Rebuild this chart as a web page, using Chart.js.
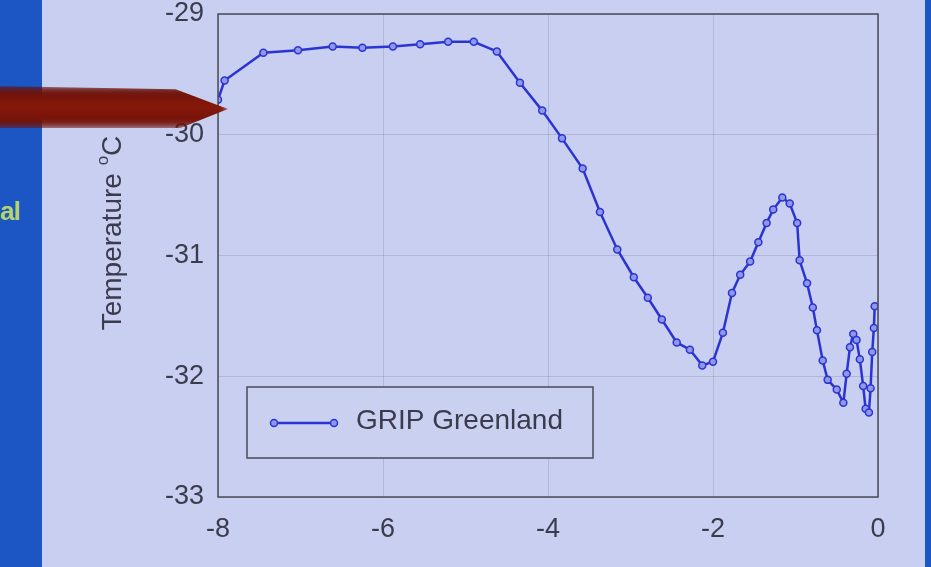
<!DOCTYPE html>
<html>
<head>
<meta charset="utf-8">
<script src="https://cdn.jsdelivr.net/npm/chart.js@4.4.1/dist/chart.umd.min.js"></script>
<style>
    html, body { margin: 0; padding: 0; }
    body { width: 931px; height: 567px; overflow: hidden; position: relative; background: #c8cff0; }
    #leftBar { position: absolute; left: 0; top: 0; width: 42px; height: 567px; background: #1c55c4; }
    #leftBar span { position: absolute; left: 0; top: 196px; font: bold 26px "Liberation Sans", Arial, sans-serif; color: #b5d46c; letter-spacing: -1px; }
    #rightBar { position: absolute; right: 0; top: 0; width: 6px; height: 567px; background: #1c55c4; }
    #pointer {
        position: absolute; left: -10px; top: 86px; width: 238px; height: 42px;
        background: linear-gradient(#5e0c06, #8a1a0c 45%, #6a0f07);
        clip-path: polygon(0 0, 78% 8%, 100% 55%, 80% 100%, 0 100%);
        filter: blur(4px);
    }
    #myChart { position: absolute; left: 0; top: 0; }
</style>
</head>
<body>
<div id="leftBar"><span>al</span></div>
<div id="rightBar"></div>
<canvas id="myChart" width="931" height="567"></canvas>
<div id="pointer"></div>

<script>
"use strict";

// tid i tusen år (kyr, negativ = före nu)
const ages = [-8.00, -7.92, -7.45, -7.03, -6.61, -6.25, -5.88, -5.55, -5.21, -4.90,
    -4.62, -4.34, -4.07, -3.83, -3.58, -3.37, -3.16, -2.96, -2.79, -2.62,
    -2.44, -2.28, -2.13, -2.00, -1.88, -1.77, -1.67, -1.55, -1.45, -1.35,
    -1.27, -1.16, -1.07, -0.98, -0.95, -0.86, -0.79, -0.74, -0.67, -0.61,
    -0.50, -0.42, -0.38, -0.34, -0.30, -0.26, -0.22, -0.18, -0.15, -0.11,
    -0.09, -0.07, -0.05, -0.04];

const temps = [-29.71, -29.55, -29.32, -29.30, -29.27, -29.28, -29.27, -29.25, -29.23, -29.23,
    -29.31, -29.57, -29.80, -30.03, -30.28, -30.64, -30.95, -31.18, -31.35, -31.53,
    -31.72, -31.78, -31.91, -31.88, -31.64, -31.31, -31.16, -31.05, -30.89, -30.73,
    -30.62, -30.52, -30.57, -30.73, -31.04, -31.23, -31.43, -31.62, -31.87, -32.03,
    -32.11, -32.22, -31.98, -31.76, -31.65, -31.70, -31.86, -32.08, -32.27, -32.30,
    -32.10, -31.80, -31.60, -31.42];

const xTicks = [-8, -6, -4, -2, 0];
const yTicks = [-33, -32, -31, -30, -29];

const seriesName = "GRIP Greenland";
const axisTitle = "Temperature ";

const lineColor = "#2b34d2";
const textColor = "#3a3b4c";
const fontFamily = "'Liberation Sans', Arial, sans-serif";

document.addEventListener("DOMContentLoaded", () => {
    drawChart();
});

// ram runt plottytan, y-titel och legend inne i plotten
const framePlugin = {
    id: "frame",
    afterDraw(chart) {
        const ctx = chart.ctx;
        const a = chart.chartArea;
        ctx.save();
        ctx.strokeStyle = "#4a4b58";
        ctx.lineWidth = 1.5;
        ctx.strokeRect(a.left, a.top, a.right - a.left, a.bottom - a.top);

        // y-axelns titel med upphöjt o
        ctx.fillStyle = textColor;
        ctx.translate(113, 233);
        ctx.rotate(-Math.PI / 2);
        ctx.font = "28px " + fontFamily;
        const w1 = ctx.measureText(axisTitle).width;
        ctx.font = "17px " + fontFamily;
        const w2 = ctx.measureText("o").width;
        ctx.font = "28px " + fontFamily;
        const w3 = ctx.measureText("C").width;
        let x = -(w1 + w2 + w3) / 2;
        ctx.textBaseline = "middle";
        ctx.fillText(axisTitle, x, 0);
        x += w1;
        ctx.font = "17px " + fontFamily;
        ctx.fillText("o", x, -10);
        x += w2;
        ctx.font = "28px " + fontFamily;
        ctx.fillText("C", x, 0);
        ctx.restore();

        // legend
        ctx.save();
        ctx.strokeStyle = "#4a4b58";
        ctx.lineWidth = 1.5;
        ctx.fillStyle = "#c9d0f0";
        ctx.fillRect(247, 387, 346, 71);
        ctx.strokeRect(247, 387, 346, 71);
        ctx.strokeStyle = lineColor;
        ctx.lineWidth = 2.5;
        ctx.beginPath();
        ctx.moveTo(274, 423);
        ctx.lineTo(334, 423);
        ctx.stroke();
        [274, 334].forEach(px => {
            ctx.beginPath();
            ctx.arc(px, 423, 3.5, 0, Math.PI * 2);
            ctx.fillStyle = "#8f98e6";
            ctx.fill();
            ctx.lineWidth = 1.5;
            ctx.stroke();
        });
        ctx.fillStyle = textColor;
        ctx.font = "28px " + fontFamily;
        ctx.textBaseline = "middle";
        ctx.fillText(chart.data.datasets[0].label, 356, 421);
        ctx.restore();
    }
};

function drawChart() {
    const chartDiv = document.getElementById("myChart");
    const points = ages.map((a, i) => ({ x: a, y: temps[i] }));

    new Chart(chartDiv, {
        type: "line",
        data: {
            datasets: [{
                label: seriesName,
                data: points,
                borderColor: lineColor,
                borderWidth: 2.5,
                pointRadius: 3.5,
                pointBorderWidth: 1.5,
                pointBackgroundColor: "#8f98e6",
                pointBorderColor: lineColor,
                tension: 0,
                fill: false
            }]
        },
        options: {
            responsive: false,
            animation: false,
            layout: { padding: { top: 14, right: 53, left: 0, bottom: 0 } },
            plugins: {
                legend: { display: false },
                tooltip: { enabled: false }
            },
            scales: {
                x: {
                    type: "linear",
                    min: -8,
                    max: 0,
                    afterBuildTicks: scale => { scale.ticks = xTicks.map(v => ({ value: v })); },
                    afterFit: scale => {
                        scale.height = 70;
                        scale.paddingLeft = 0;
                        scale.paddingRight = 0;
                    },
                    grid: { color: "rgba(110,112,135,0.25)", drawTicks: false },
                    border: { display: false },
                    ticks: {
                        padding: 16,
                        maxRotation: 0,
                        autoSkip: false,
                        color: textColor,
                        font: { family: fontFamily, size: 27 }
                    }
                },
                y: {
                    min: -33,
                    max: -29,
                    afterBuildTicks: scale => { scale.ticks = yTicks.map(v => ({ value: v })); },
                    afterFit: scale => {
                        scale.width = 218;
                        scale.paddingTop = 0;
                        scale.paddingBottom = 0;
                    },
                    grid: { color: "rgba(110,112,135,0.25)", drawTicks: false },
                    border: { display: false },
                    ticks: {
                        padding: 14,
                        autoSkip: false,
                        color: textColor,
                        font: { family: fontFamily, size: 27 }
                    }
                }
            }
        },
        plugins: [framePlugin]
    });
}
</script>
</body>
</html>
